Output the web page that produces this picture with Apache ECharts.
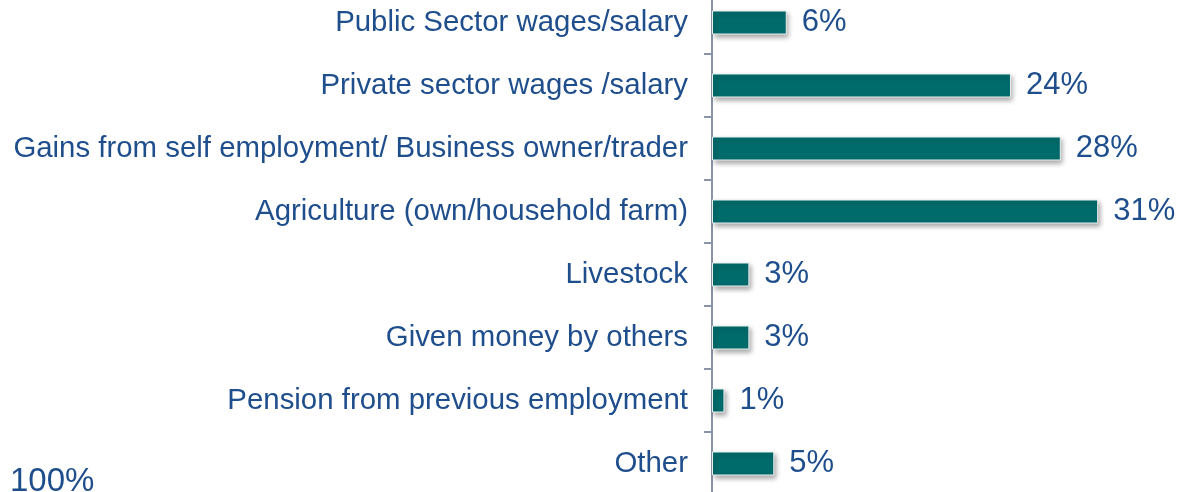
<!DOCTYPE html>
<html>
<head>
<meta charset="utf-8">
<script src="https://cdn.jsdelivr.net/npm/echarts@6/dist/echarts.min.js"></script>
<style>
  html, body { margin: 0; padding: 0; background: #fff; overflow: hidden; }
  #chart { width: 1200px; height: 504px; margin-top: -9px; }
</style>
</head>
<body>
<div id="chart"></div>
<script>
// income sources, top to bottom
const categories = [
  'Public Sector wages/salary',
  'Private sector wages /salary',
  'Gains from self employment/ Business owner/trader',
  'Agriculture (own/household farm)',
  'Livestock',
  'Given money by others',
  'Pension from previous employment',
  'Other'
]
const shares = [6, 24, 28, 31, 3, 3, 1, 5]
const totalLabel = '100%'

const textColor = '#1F4E8C'
const font = '"Liberation Sans", Arial, sans-serif'

const chart = echarts.init(document.getElementById('chart'))
chart.setOption({
  animation: false,
  textStyle: { fontFamily: font },
  grid: {
    left: 712,
    width: 436,
    top: 0,
    bottom: 0,
    containLabel: false
  },
  xAxis: {
    type: 'value',
    min: 0,
    max: 35,
    show: false
  },
  yAxis: {
    type: 'category',
    inverse: true,
    data: categories,
    axisLine: { show: true, lineStyle: { color: '#8A94A8', width: 2 } },
    axisTick: {
      show: true,
      inside: false,
      length: 8,
      alignWithLabel: false,
      lineStyle: { color: '#8A94A8', width: 2 }
    },
    axisLabel: {
      margin: 24,
      color: textColor,
      fontSize: 29.4,
      fontFamily: font
    },
    splitLine: { show: false }
  },
  series: [{
    type: 'bar',
    data: shares,
    barWidth: 24,
    itemStyle: {
      color: '#006B6B',
      borderColor: '#E8F0F0',
      borderWidth: 1,
      shadowColor: 'rgba(0, 0, 0, 0.35)',
      shadowBlur: 5,
      shadowOffsetX: 2,
      shadowOffsetY: 3
    },
    label: {
      show: true,
      position: 'right',
      distance: 15,
      formatter: '{c}%',
      color: textColor,
      fontSize: 31,
      fontFamily: font
    }
  }],
  graphic: [{
    type: 'text',
    left: 10,
    top: 474,
    style: {
      text: totalLabel,
      fill: textColor,
      fontSize: 33,
      fontFamily: font
    }
  }]
})
</script>
</body>
</html>
